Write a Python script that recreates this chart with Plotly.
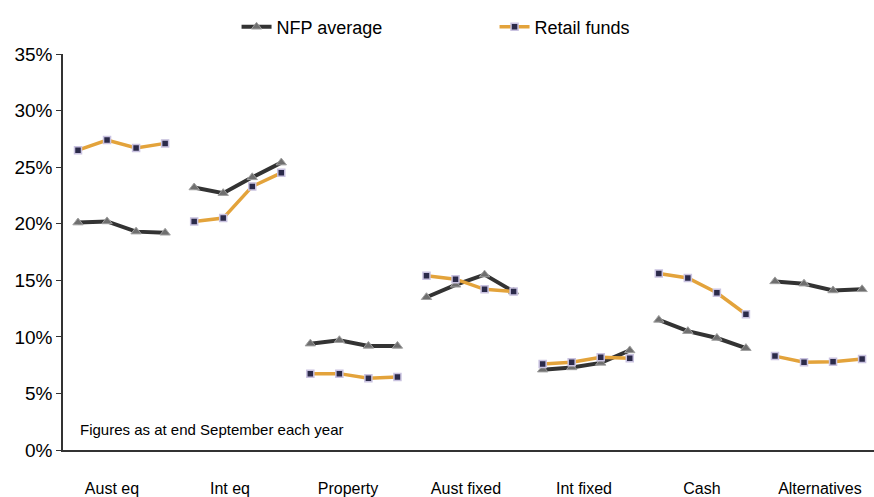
import plotly.graph_objects as go

categories = ["Aust eq", "Int eq", "Property", "Aust fixed", "Int fixed", "Cash", "Alternatives"]
years_per_group = 4

nfp_average = [
    [20.1, 20.2, 19.3, 19.2],
    [23.2, 22.7, 24.1, 25.4],
    [9.4, 9.7, 9.2, 9.2],
    [13.5, 14.6, 15.5, 14.0],
    [7.1, 7.3, 7.7, 8.8],
    [11.5, 10.5, 9.9, 9.0],
    [14.9, 14.7, 14.1, 14.2],
]
retail_funds = [
    [26.5, 27.4, 26.7, 27.1],
    [20.2, 20.5, 23.3, 24.5],
    [6.75, 6.75, 6.35, 6.45],
    [15.4, 15.1, 14.2, 14.0],
    [7.6, 7.75, 8.2, 8.1],
    [15.6, 15.2, 13.9, 12.0],
    [8.3, 7.75, 7.8, 8.05],
]
note = "Figures as at end September each year"


def build(series):
    xs, ys = [], []
    for g, vals in enumerate(series):
        for j, v in enumerate(vals):
            xs.append(g * years_per_group + j)
            ys.append(v)
        xs.append(None)
        ys.append(None)
    return xs, ys


fig = go.Figure()
x1, y1 = build(nfp_average)
fig.add_trace(go.Scatter(
    x=x1, y=y1, name="NFP average", mode="lines+markers", connectgaps=False,
    line=dict(color="#333333", width=4),
    marker=dict(symbol="triangle-up", size=9, color="#6f6f6f",
                line=dict(color="#a0a0a0", width=1)),
))
x2, y2 = build(retail_funds)
fig.add_trace(go.Scatter(
    x=x2, y=y2, name="Retail funds", mode="lines+markers", connectgaps=False,
    line=dict(color="#e3a33b", width=3.5),
    marker=dict(symbol="square", size=7, color="#2b2a4a",
                line=dict(color="#c9c2e0", width=1.5)),
))

tickvals = [1.17 + g * 4.063 for g in range(len(categories))]

fig.add_annotation(x=0.019, y=21 / 399, xref="paper", yref="paper",
                   text=note, showarrow=False, xanchor="left", yanchor="middle",
                   font=dict(family="Liberation Sans, Arial", size=15, color="#000"))

fig.update_layout(
    width=874, height=497,
    margin=dict(l=63, r=0, t=54, b=44),
    paper_bgcolor="white", plot_bgcolor="white",
    font=dict(family="Liberation Sans, Arial", color="#000"),
    showlegend=True,
    legend=dict(orientation="h", x=0.214, xanchor="left", y=1.068, yanchor="middle",
                font=dict(size=18), entrywidth=213, entrywidthmode="pixels",
                bgcolor="rgba(0,0,0,0)"),
    xaxis=dict(range=[-0.517, 27.41], showgrid=False, zeroline=False,
               tickmode="array", tickvals=tickvals, ticktext=categories,
               ticks="", showline=True, linecolor="#333333", linewidth=2,
               tickfont=dict(size=16), ticklabelstandoff=23),
    yaxis=dict(range=[0, 35], tickvals=[0, 5, 10, 15, 20, 25, 30, 35],
               ticktext=[f"{v}%" for v in [0, 5, 10, 15, 20, 25, 30, 35]],
               showgrid=False, zeroline=False, showline=True, linecolor="#333333",
               linewidth=1.5, ticks="outside", ticklen=5, tickcolor="#333333",
               tickfont=dict(size=19)),
)

fig.write_html("out.html")
